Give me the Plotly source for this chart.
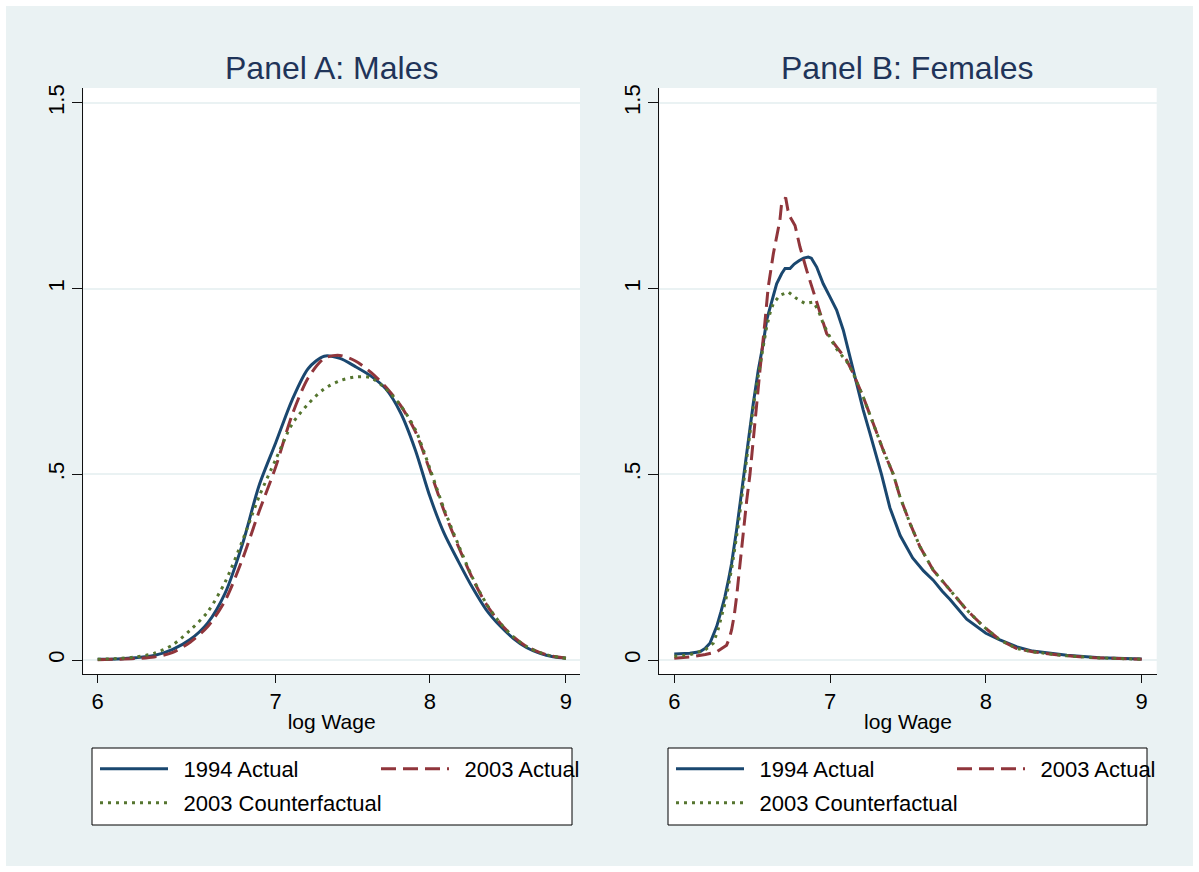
import math
import plotly.graph_objects as go

# ---------------- data ----------------
panel_titles = ["Panel A: Males", "Panel B: Females"]
series_names = ["1994 Actual", "2003 Actual", "2003 Counterfactual"]
x_title = "log Wage"
x_ticks = [6, 7, 8, 9]
x_tick_labels = ["6", "7", "8", "9"]
y_ticks = [0, 0.5, 1, 1.5]
y_tick_labels = ["0", ".5", "1", "1.5"]

# Panel A (males)
male_x = [6.0, 6.1, 6.2, 6.3, 6.4, 6.5, 6.6, 6.7, 6.8, 6.9, 7.0, 7.1, 7.2, 7.3, 7.4,
          7.5, 7.6, 7.7, 7.8, 7.9, 8.0, 8.1, 8.2, 8.3, 8.4, 8.5, 8.6, 8.7, 8.8, 8.9, 9.0]
male_1994 = [0.002, 0.003, 0.006, 0.012, 0.028, 0.055, 0.10, 0.18, 0.31, 0.47, 0.585,
             0.70, 0.785, 0.818, 0.812, 0.79, 0.765, 0.73, 0.665, 0.565, 0.44, 0.34,
             0.265, 0.195, 0.135, 0.092, 0.058, 0.033, 0.018, 0.009, 0.005]
male_2003 = [0.001, 0.002, 0.004, 0.008, 0.02, 0.048, 0.09, 0.16, 0.27, 0.40, 0.52,
             0.66, 0.76, 0.812, 0.82, 0.805, 0.775, 0.735, 0.685, 0.615, 0.51, 0.40,
             0.305, 0.22, 0.15, 0.10, 0.062, 0.036, 0.02, 0.01, 0.005]
male_cf = [0.002, 0.004, 0.008, 0.018, 0.04, 0.08, 0.13, 0.21, 0.32, 0.44, 0.54,
           0.635, 0.69, 0.73, 0.752, 0.762, 0.76, 0.73, 0.685, 0.62, 0.515, 0.405,
           0.31, 0.222, 0.152, 0.10, 0.062, 0.036, 0.02, 0.01, 0.005]

# Panel B (females)
fem94_x = [6.0, 6.1, 6.165, 6.2, 6.229, 6.25, 6.272, 6.3, 6.325, 6.35, 6.368, 6.4, 6.433,
           6.45, 6.475, 6.507, 6.539, 6.571, 6.593, 6.615, 6.636, 6.657, 6.689, 6.711,
           6.743, 6.77, 6.8, 6.83, 6.86, 6.88, 6.914, 6.956, 7.0, 7.042, 7.085, 7.128,
           7.171, 7.213, 7.256, 7.299, 7.33, 7.384, 7.45, 7.53, 7.6, 7.662, 7.72, 7.77,
           7.877, 8.0, 8.09, 8.2, 8.3, 8.52, 8.73, 9.0]
fem94_y = [0.016, 0.018, 0.022, 0.032, 0.045, 0.065, 0.09, 0.13, 0.17, 0.22, 0.26, 0.35,
           0.457, 0.52, 0.601, 0.69, 0.78, 0.852, 0.915, 0.95, 0.977, 1.013, 1.040, 1.054,
           1.054, 1.066, 1.075, 1.082, 1.085, 1.082, 1.058, 1.013, 0.977, 0.942, 0.888,
           0.816, 0.744, 0.673, 0.61, 0.547, 0.50, 0.41, 0.335, 0.275, 0.24, 0.215, 0.185,
           0.163, 0.11, 0.072, 0.054, 0.035, 0.024, 0.013, 0.006, 0.003]

fem03_x = [6.0, 6.1, 6.2, 6.272, 6.336, 6.355, 6.368, 6.385, 6.40, 6.422, 6.443, 6.465,
           6.486, 6.518, 6.55, 6.582, 6.603, 6.636, 6.66, 6.678, 6.689, 6.715, 6.73, 6.743,
           6.775, 6.807, 6.85, 6.892, 6.946, 6.978, 7.042, 7.107, 7.149, 7.213, 7.277,
           7.341, 7.406, 7.448, 7.513, 7.577, 7.662, 7.77, 7.877, 7.985, 8.09, 8.198, 8.3,
           8.5, 8.7, 9.0]
fem03_y = [0.005, 0.008, 0.015, 0.022, 0.04, 0.06, 0.081, 0.12, 0.17, 0.26, 0.35, 0.43,
           0.50, 0.646, 0.78, 0.91, 1.004, 1.094, 1.15, 1.184, 1.229, 1.245, 1.21, 1.193,
           1.17, 1.112, 1.049, 0.995, 0.924, 0.879, 0.843, 0.807, 0.771, 0.708, 0.637,
           0.565, 0.50, 0.44, 0.368, 0.305, 0.242, 0.188, 0.135, 0.09, 0.054, 0.031, 0.022,
           0.012, 0.006, 0.002]

femcf_x = [6.0, 6.1, 6.2, 6.25, 6.28, 6.33, 6.37, 6.41, 6.44, 6.48, 6.51, 6.545, 6.575,
           6.593, 6.614, 6.636, 6.678, 6.732, 6.786, 6.839, 6.892, 6.924, 6.956, 6.988,
           7.031, 7.117, 7.149, 7.213, 7.277, 7.341, 7.406, 7.448, 7.513, 7.577, 7.662,
           7.77, 7.877, 7.985, 8.09, 8.198, 8.3, 8.5, 8.7, 9.0]
femcf_y = [0.01, 0.014, 0.028, 0.045, 0.08, 0.16, 0.25, 0.36, 0.46, 0.6, 0.69, 0.78, 0.852,
           0.897, 0.933, 0.96, 0.982, 0.991, 0.973, 0.96, 0.964, 0.942, 0.906, 0.879, 0.843,
           0.798, 0.771, 0.708, 0.637, 0.565, 0.50, 0.44, 0.368, 0.305, 0.242, 0.188, 0.135,
           0.09, 0.054, 0.031, 0.022, 0.012, 0.006, 0.002]

# ---------------- styling ----------------
W, H = 1199, 872
BG = "#eaf2f3"
GRID = "#eaf2f3"
TITLE_COL = "#1f3459"
COLORS = ["#1a476f", "#90353b", "#55752f"]
DASHES = ["solid", "15px,7px", "3px,5px"]
FONT = "Liberation Sans, Arial, sans-serif"
GAP = "\u00a0\u2009"  # extra space between legend key and label


def px_x(p):
    return p / W


def px_y(p):
    return 1 - p / H


fig = go.Figure()

panelA = [(male_x, male_1994), (male_x, male_2003), (male_x, male_cf)]
panelB = [(fem94_x, fem94_y), (fem03_x, fem03_y), (femcf_x, femcf_y)]

legend_ids = [["legend", "legend", "legend2"], ["legend3", "legend3", "legend4"]]

for pi, (panel, xa, ya) in enumerate([(panelA, "x", "y"), (panelB, "x2", "y2")]):
    for si, (xs, ys) in enumerate(panel):
        fig.add_trace(go.Scatter(
            x=xs, y=ys, mode="lines", name=GAP + series_names[si],
            xaxis=xa, yaxis=ya,
            line=dict(color=COLORS[si], width=3, dash=DASHES[si],
                      shape="spline" if pi == 0 else "linear", smoothing=0.8),
            legend=legend_ids[pi][si],
            hoverinfo="skip",
        ))

yrange = [-(674 - 660) / 371.4, (660 - 88) / 371.4]
ydom = [px_y(674), px_y(88)]

axis_common = dict(showline=True, linecolor="#111", linewidth=1, ticks="outside",
                   tickcolor="#111", tickfont=dict(size=22, color="black", family=FONT),
                   mirror=False)

fig.update_layout(
    width=W, height=H,
    margin=dict(l=0, r=0, t=0, b=0, autoexpand=False),
    paper_bgcolor=BG, plot_bgcolor="white",
    font=dict(family=FONT, color="black"),
    xaxis=dict(domain=[px_x(83.3), px_x(580)], type="log",
               range=[math.log10(5.9257), math.log10(9.110)],
               tickvals=x_ticks, ticktext=x_tick_labels, ticklen=8, showgrid=False,
               zeroline=False, anchor="y",
               title=dict(text=x_title, font=dict(size=21, color="black"), standoff=0),
               **axis_common),
    yaxis=dict(domain=ydom, range=yrange, tickvals=y_ticks, ticktext=y_tick_labels,
               tickangle=-90, ticklen=10, showgrid=True, gridcolor=GRID, gridwidth=2,
               zeroline=False, anchor="x", **axis_common),
    xaxis2=dict(domain=[px_x(659.3), px_x(1156.7)], range=[5.904, 9.0963],
                tickvals=x_ticks, ticktext=x_tick_labels, ticklen=8, showgrid=False,
                zeroline=False, anchor="y2",
                title=dict(text=x_title, font=dict(size=21, color="black"), standoff=0),
                **axis_common),
    yaxis2=dict(domain=ydom, range=yrange, tickvals=y_ticks, ticktext=y_tick_labels,
                tickangle=-90, ticklen=10, showgrid=True, gridcolor=GRID, gridwidth=2,
                zeroline=False, anchor="x2", **axis_common),
    showlegend=True,
)

# legends: two rows per panel
leg_font = dict(size=22, color="black", family=FONT)
leg_common = dict(orientation="h", xanchor="left", yanchor="middle", bgcolor="rgba(0,0,0,0)",
                  borderwidth=0, font=leg_font, itemwidth=68,
                  itemclick=False, itemdoubleclick=False, tracegroupgap=0)
fig.update_layout(
    legend=dict(x=px_x(95), y=px_y(769), entrywidth=198, **leg_common),
    legend2=dict(x=px_x(95), y=px_y(803), entrywidth=0, **leg_common),
    legend3=dict(x=px_x(671), y=px_y(769), entrywidth=198, **leg_common),
    legend4=dict(x=px_x(671), y=px_y(803), entrywidth=0, **leg_common),
)

shapes = []
# outer white frame
shapes.append(dict(type="rect", xref="paper", yref="paper", x0=0, y0=0, x1=1, y1=1,
                   line=dict(color="white", width=12), fillcolor="rgba(0,0,0,0)",
                   layer="above"))
# legend boxes
for x0, x1 in [(92, 572), (668, 1147)]:
    shapes.append(dict(type="rect", xref="paper", yref="paper",
                       x0=px_x(x0), x1=px_x(x1), y0=px_y(825), y1=px_y(748),
                       line=dict(color="black", width=1), fillcolor="white", layer="below"))
fig.update_layout(shapes=shapes)

# panel titles
for cx, t in [(331, panel_titles[0]), (907, panel_titles[1])]:
    fig.add_annotation(x=px_x(cx), y=px_y(68), xref="paper", yref="paper", text=t,
                       showarrow=False, xanchor="center", yanchor="middle",
                       font=dict(size=32, color=TITLE_COL, family=FONT))

fig.write_html("out.html")
